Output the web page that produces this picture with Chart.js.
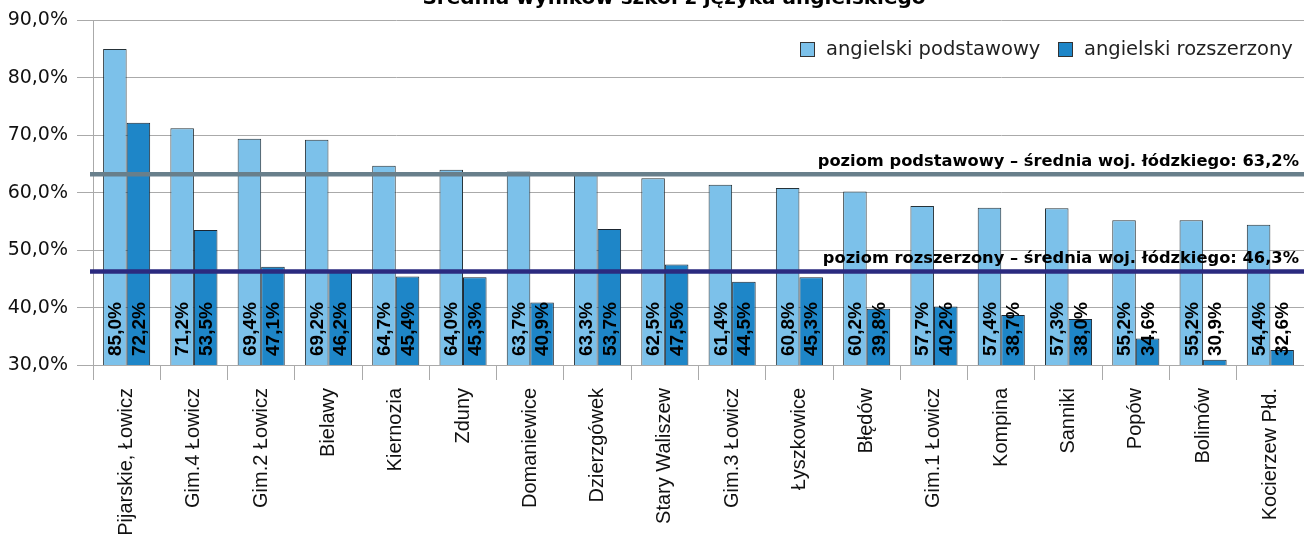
<!DOCTYPE html>
<html>
<head>
<meta charset="utf-8">
<script src="https://cdn.jsdelivr.net/npm/chart.js@4.4.1/dist/chart.umd.min.js"></script>
<style>
  html, body { margin: 0; padding: 0; background: #fff; }
  #wrap { width: 1304px; height: 550px; }
</style>
</head>
<body>
<div id="wrap"><canvas id="wykres"></canvas></div>
<script>
var szkoly = ['Pijarskie, Łowicz', 'Gim.4 Łowicz', 'Gim.2 Łowicz', 'Bielawy', 'Kiernozia', 'Zduny', 'Domaniewice', 'Dzierzgówek', 'Stary Waliszew', 'Gim.3 Łowicz', 'Łyszkowice', 'Błędów', 'Gim.1 Łowicz', 'Kompina', 'Sanniki', 'Popów', 'Bolimów', 'Kocierzew Płd.'];
var podstawowy = [85.0, 71.2, 69.4, 69.2, 64.7, 64.0, 63.7, 63.3, 62.5, 61.4, 60.8, 60.2, 57.7, 57.4, 57.3, 55.2, 55.2, 54.4];
var rozszerzony = [72.2, 53.5, 47.1, 46.2, 45.4, 45.3, 40.9, 53.7, 47.5, 44.5, 45.3, 39.8, 40.2, 38.7, 38.0, 34.6, 30.9, 32.6];
var sredniaPodst = 63.2;
var sredniaRozsz = 46.3;
var tytul = 'Średnia wyników szkół z języka angielskiego';

function procent(v) {
    return v.toFixed(1).replace('.', ',') + '%';
}

// linie średnich, etykiety na słupkach, legenda i tytuł
var dodatki = {
    id: 'dodatki',
    afterDatasetsDraw: function (chart) {
        var ctx = chart.ctx;
        var y = chart.scales.y;
        var area = chart.chartArea;

        // etykiety w słupkach
        ctx.save();
        ctx.fillStyle = '#000';
        ctx.font = 'bold 19px "Liberation Sans", Arial, sans-serif';
        ctx.textAlign = 'left';
        ctx.textBaseline = 'middle';
        chart.data.datasets.forEach(function (ds, i) {
            chart.getDatasetMeta(i).data.forEach(function (bar, j) {
                ctx.save();
                ctx.translate(bar.x, area.bottom - 9);
                ctx.rotate(-Math.PI / 2);
                ctx.fillText(procent(ds.data[j]), 0, 1);
                ctx.restore();
            });
        });
        ctx.restore();

        // linie średnich
        var linie = [
            { v: sredniaPodst, kolor: '#687f8b', tekst: 'poziom podstawowy – średnia woj. łódzkiego: ' + procent(sredniaPodst) },
            { v: sredniaRozsz, kolor: '#2b2a7f', tekst: 'poziom rozszerzony – średnia woj. łódzkiego: ' + procent(sredniaRozsz) }
        ];
        linie.forEach(function (l) {
            var py = y.getPixelForValue(l.v);
            ctx.save();
            ctx.strokeStyle = l.kolor;
            ctx.lineWidth = 4.5;
            ctx.beginPath();
            ctx.moveTo(area.left - 3, py);
            ctx.lineTo(chart.width, py);
            ctx.stroke();
            ctx.fillStyle = '#000';
            ctx.font = 'bold 16.3px "DejaVu Sans", sans-serif';
            ctx.textAlign = 'right';
            ctx.textBaseline = 'alphabetic';
            ctx.fillText(l.tekst, chart.width - 5, py - 8);
            ctx.restore();
        });

        // legenda
        ctx.save();
        ctx.font = '19.5px "DejaVu Sans", sans-serif';
        ctx.textBaseline = 'middle';
        ctx.textAlign = 'left';
        var lx = 800;
        chart.data.datasets.forEach(function (ds) {
            ctx.fillStyle = ds.backgroundColor;
            ctx.fillRect(lx, 42, 15, 15);
            ctx.strokeStyle = '#333';
            ctx.lineWidth = 1;
            ctx.strokeRect(lx + 0.5, 42.5, 14, 14);
            ctx.fillStyle = '#222';
            ctx.fillText(ds.label, lx + 26, 50);
            lx += 258;
        });
        ctx.restore();

        // tytuł (ucięty u góry)
        ctx.save();
        ctx.font = 'bold 20px "DejaVu Sans", sans-serif';
        ctx.fillStyle = '#000';
        ctx.textAlign = 'center';
        ctx.textBaseline = 'alphabetic';
        ctx.fillText(tytul, 674, 4);
        ctx.restore();
    }
};

var ctx = document.getElementById('wykres');
var chart = new Chart(ctx, {
    type: 'bar',
    data: {
        labels: szkoly,
        datasets: [{
            label: 'angielski podstawowy',
            data: podstawowy,
            backgroundColor: '#7cc1ea',
            borderColor: '#263238',
            borderWidth: 1,
            borderSkipped: 'bottom',
            categoryPercentage: 0.7,
            barPercentage: 1.0
        }, {
            label: 'angielski rozszerzony',
            data: rozszerzony,
            backgroundColor: '#1e86c8',
            borderColor: '#1b2530',
            borderWidth: 1,
            borderSkipped: 'bottom',
            categoryPercentage: 0.7,
            barPercentage: 1.0
        }]
    },
    options: {
        responsive: true,
        maintainAspectRatio: false,
        animation: false,
        layout: { padding: { top: 19, right: 0, left: 0, bottom: 0 } },
        plugins: {
            legend: { display: false },
            title: { display: false },
            tooltip: { enabled: false }
        },
        scales: {
            x: {
                grid: {
                    drawOnChartArea: false,
                    tickLength: 15,
                    color: '#aaaaaa',
                    offset: true
                },
                border: { color: '#aaaaaa' },
                ticks: {
                    minRotation: 90,
                    maxRotation: 90,
                    autoSkip: false,
                    padding: 8,
                    color: '#111',
                    font: { family: '"Liberation Sans", Arial, sans-serif', size: 20 }
                },
                afterFit: function (s) { s.height = 185; }
            },
            y: {
                min: 30,
                max: 90,
                ticks: {
                    stepSize: 10,
                    padding: 9,
                    color: '#111',
                    font: { family: '"DejaVu Sans", sans-serif', size: 19 },
                    callback: function (v) { return procent(v); }
                },
                grid: { color: '#aaaaaa', tickLength: 16 },
                border: { color: '#aaaaaa' },
                afterFit: function (s) { s.width = 93; }
            }
        }
    },
    plugins: [dodatki]
});
</script>
</body>
</html>
